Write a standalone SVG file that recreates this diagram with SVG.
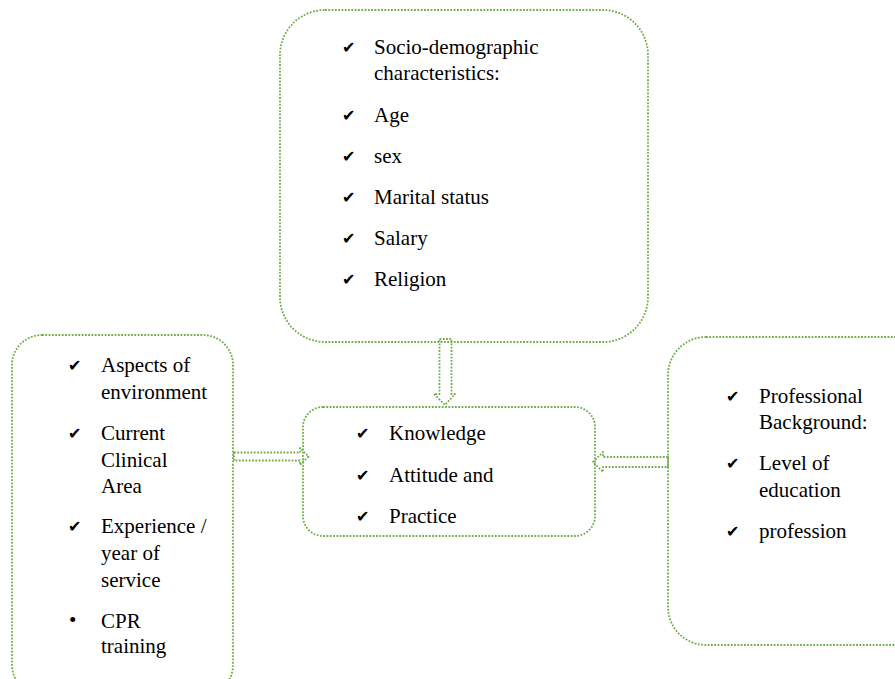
<svg xmlns="http://www.w3.org/2000/svg" width="895" height="679" viewBox="0 0 895 679">
<style>
.box{fill:none;stroke:#70AD47;stroke-width:1.8;stroke-dasharray:1.8 1.5;}
.arr{fill:#fff;stroke:#70AD47;stroke-width:1.8;stroke-dasharray:1.8 1.5;stroke-linejoin:round;}
.t{font-family:"Liberation Serif","Times New Roman",serif;font-size:21px;fill:#000;}
.ck{font-family:"DejaVu Sans",sans-serif;font-size:16px;fill:#000;}
</style>
<rect width="895" height="679" fill="#fff"/>
<g id="connectors">
<path class="arr" d="M439.5,339 L451.5,339 L451.5,394 L455,394 L445,405 L434,394 L439.5,394 Z"/>
<path class="arr" d="M234,452.5 L300,452.5 L300,448 L308.5,456.5 L300,465 L300,460.5 L234,460.5 Z"/>
<path class="arr" d="M668,457 L603,457 L603,452 L593,462 L603,472 L603,467 L668,467 Z"/>
</g>
<g id="node-socio">
<rect class="box" x="280" y="10" width="368" height="332" rx="45"/>
<text class="ck" x="342" y="53">✔</text><text class="t" x="374" y="54">Socio-demographic</text>
<text class="t" x="374" y="80">characteristics:</text>
<text class="ck" x="342" y="121">✔</text><text class="t" x="374" y="122">Age</text>
<text class="ck" x="342" y="162">✔</text><text class="t" x="374" y="163">sex</text>
<text class="ck" x="342" y="203">✔</text><text class="t" x="374" y="204">Marital status</text>
<text class="ck" x="342" y="244">✔</text><text class="t" x="374" y="245">Salary</text>
<text class="ck" x="342" y="285">✔</text><text class="t" x="374" y="286">Religion</text>
</g>
<g id="node-environment">
<rect class="box" x="12" y="335" width="221" height="360" rx="30"/>
<text class="ck" x="68" y="371">✔</text><text class="t" x="101" y="372">Aspects of</text>
<text class="t" x="101" y="399">environment</text>
<text class="ck" x="68" y="439">✔</text><text class="t" x="101" y="440">Current</text>
<text class="t" x="101" y="467">Clinical</text>
<text class="t" x="101" y="493">Area</text>
<text class="ck" x="68" y="532">✔</text><text class="t" x="101" y="533">Experience /</text>
<text class="t" x="101" y="560">year of</text>
<text class="t" x="101" y="587">service</text>
<text class="t" x="69" y="627">•</text><text class="t" x="101" y="628">CPR</text>
<text class="t" x="101" y="653">training</text>
</g>
<g id="node-kap">
<rect class="box" x="303" y="407" width="292" height="129" rx="20"/>
<text class="ck" x="356" y="439">✔</text><text class="t" x="389" y="440">Knowledge</text>
<text class="ck" x="356" y="481">✔</text><text class="t" x="389" y="482">Attitude and</text>
<text class="ck" x="356" y="522">✔</text><text class="t" x="389" y="523">Practice</text>
</g>
<g id="node-professional">
<rect class="box" x="668" y="337" width="280" height="308" rx="38"/>
<text class="ck" x="726" y="402">✔</text><text class="t" x="759" y="403">Professional</text>
<text class="t" x="759" y="429">Background:</text>
<text class="ck" x="726" y="469">✔</text><text class="t" x="759" y="470">Level of</text>
<text class="t" x="759" y="497">education</text>
<text class="ck" x="726" y="537">✔</text><text class="t" x="759" y="538">profession</text>
</g>
</svg>
